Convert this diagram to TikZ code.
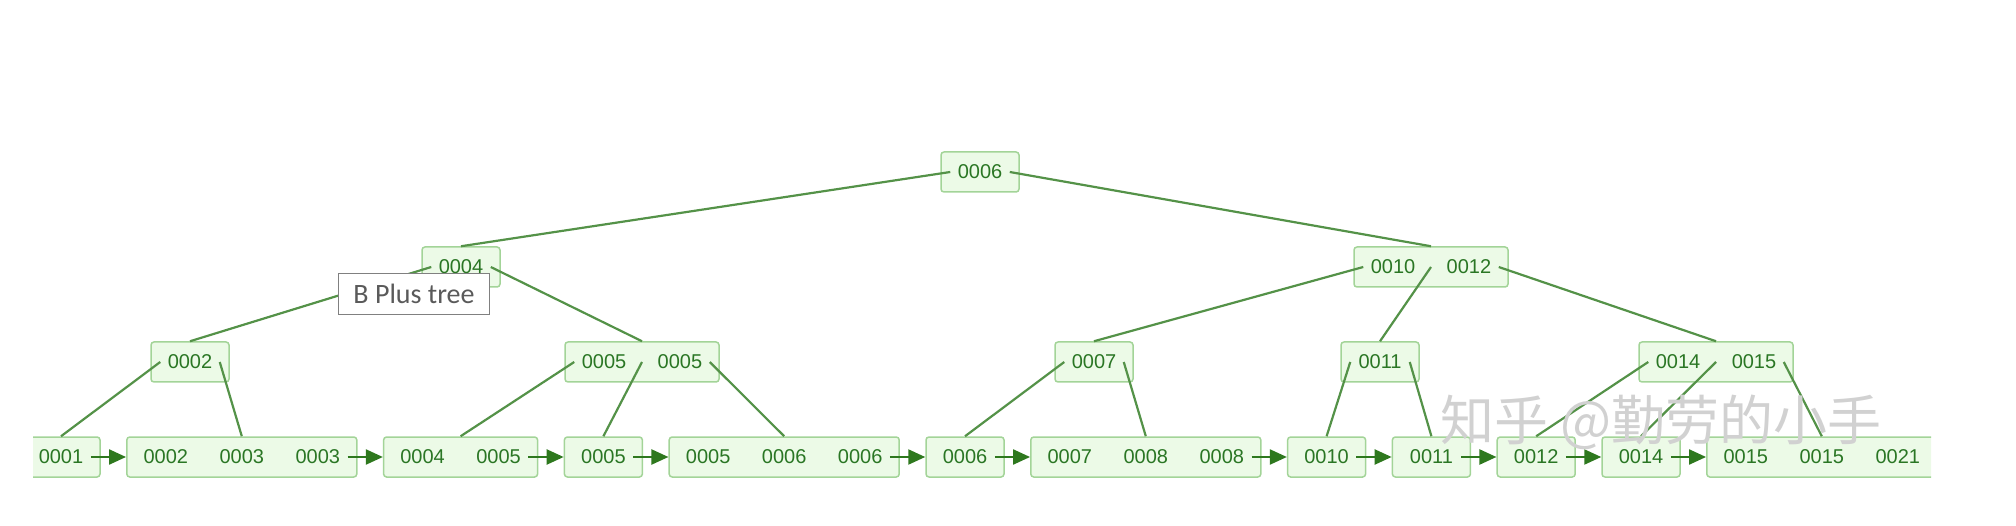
\documentclass[tikz,border=0pt]{standalone}
\usepackage{fontspec}
\setmainfont{Liberation Sans}
\newfontfamily\tipfont{Carlito}
\newfontfamily\markfont{Noto Sans CJK SC}
\usetikzlibrary{positioning}
\usetikzlibrary{arrows.meta}

\definecolor{boxfill}{RGB}{236,250,231}
\definecolor{boxline}{RGB}{163,212,152}
\definecolor{keytext}{RGB}{42,118,36}
\definecolor{edgeline}{RGB}{84,146,72}
\definecolor{arrowgreen}{RGB}{46,120,30}
\definecolor{tipgray}{RGB}{90,90,90}

\newcommand{\keycell}[1]{\makebox[76pt]{#1}}

\begin{document}
\begin{tikzpicture}[x=1pt, y=-1pt,
                keynode/.style={rectangle, draw=boxline, fill=boxfill, line width=1.5pt, rounded corners=3pt, minimum height=40pt, inner sep=0pt, text=keytext, font=\fontsize{20}{24}\selectfont},
                onekeynode/.style={keynode, minimum width=78pt},
                twokeynode/.style={keynode, minimum width=154pt},
                threekeynode/.style={keynode, minimum width=230pt},
                tipnode/.style={rectangle, draw=gray, fill=white, line width=1.2pt, minimum width=151pt, minimum height=41pt, inner sep=0pt, text=tipgray, font=\tipfont\fontsize{28}{32}\selectfont},
                treeline/.style={draw=edgeline, line width=2.2pt},
                leafarrow/.style={draw=arrowgreen, line width=2.2pt, -{Triangle[length=17pt, width=15pt]}},
                node distance=25.3pt
            ]
            \path[use as bounding box] (0,0) rectangle (2016,526);
            \clip (33,0) rectangle (1931,526);

            % Nodes
            \node[onekeynode]       (root)          at (980,172)        {0006};

            \node[onekeynode]       (key_4)         at (461,267)        {0004};
            \node[twokeynode]       (key_10_12)     at (1431,267)       {\keycell{0010}\keycell{0012}};

            \node[onekeynode]       (key_2)         at (190,362)        {0002};
            \node[twokeynode]       (key_5_5)       at (642,362)        {\keycell{0005}\keycell{0005}};
            \node[onekeynode]       (key_7)         at (1094,362)       {0007};
            \node[onekeynode]       (key_11)        at (1380,362)       {0011};
            \node[twokeynode]       (key_14_15)     at (1716,362)       {\keycell{0014}\keycell{0015}};

            \node[onekeynode]       (leaf_1)        at (61,457)         {0001};
            \node[threekeynode]     (leaf_2_3_3)    [right=of leaf_1]   {\keycell{0002}\keycell{0003}\keycell{0003}};
            \node[twokeynode]       (leaf_4_5)      [right=of leaf_2_3_3]   {\keycell{0004}\keycell{0005}};
            \node[onekeynode]       (leaf_5)        [right=of leaf_4_5]     {0005};
            \node[threekeynode]     (leaf_5_6_6)    [right=of leaf_5]       {\keycell{0005}\keycell{0006}\keycell{0006}};
            \node[onekeynode]       (leaf_6)        [right=of leaf_5_6_6]   {0006};
            \node[threekeynode]     (leaf_7_8_8)    [right=of leaf_6]       {\keycell{0007}\keycell{0008}\keycell{0008}};
            \node[onekeynode]       (leaf_10)       [right=of leaf_7_8_8]   {0010};
            \node[onekeynode]       (leaf_11)       [right=of leaf_10]      {0011};
            \node[onekeynode]       (leaf_12)       [right=of leaf_11]      {0012};
            \node[onekeynode]       (leaf_14)       [right=of leaf_12]      {0014};
            \node[threekeynode]     (leaf_15_15_21) [right=of leaf_14]      {\keycell{0015}\keycell{0015}\keycell{0021}};

            %Lines
            \draw[treeline] ([xshift=10pt]root.west) -- (key_4.north);
            \draw[treeline] ([xshift=-10pt]root.east) -- (key_10_12.north);

            \draw[treeline] ([xshift=10pt]key_4.west) -- (key_2.north);
            \draw[treeline] ([xshift=-10pt]key_4.east) -- (key_5_5.north);

            \draw[treeline] ([xshift=10pt]key_10_12.west) -- (key_7.north);
            \draw[treeline] (key_10_12.center) -- (key_11.north);
            \draw[treeline] ([xshift=-10pt]key_10_12.east) -- (key_14_15.north);

            \draw[treeline] ([xshift=10pt]key_2.west) -- (leaf_1.north);
            \draw[treeline] ([xshift=-10pt]key_2.east) -- (leaf_2_3_3.north);

            \draw[treeline] ([xshift=10pt]key_5_5.west) -- (leaf_4_5.north);
            \draw[treeline] (key_5_5.center) -- (leaf_5.north);
            \draw[treeline] ([xshift=-10pt]key_5_5.east) -- (leaf_5_6_6.north);

            \draw[treeline] ([xshift=10pt]key_7.west) -- (leaf_6.north);
            \draw[treeline] ([xshift=-10pt]key_7.east) -- (leaf_7_8_8.north);

            \draw[treeline] ([xshift=10pt]key_11.west) -- (leaf_10.north);
            \draw[treeline] ([xshift=-10pt]key_11.east) -- (leaf_11.north);

            \draw[treeline] ([xshift=10pt]key_14_15.west) -- (leaf_12.north);
            \draw[treeline] (key_14_15.center) -- (leaf_14.north);
            \draw[treeline] ([xshift=-10pt]key_14_15.east) -- (leaf_15_15_21.north);

            %Leaf links
            \draw[leafarrow] ([xshift=-10pt]leaf_1.east) -- (leaf_2_3_3.west);
            \draw[leafarrow] ([xshift=-10pt]leaf_2_3_3.east) -- (leaf_4_5.west);
            \draw[leafarrow] ([xshift=-10pt]leaf_4_5.east) -- (leaf_5.west);
            \draw[leafarrow] ([xshift=-10pt]leaf_5.east) -- (leaf_5_6_6.west);
            \draw[leafarrow] ([xshift=-10pt]leaf_5_6_6.east) -- (leaf_6.west);
            \draw[leafarrow] ([xshift=-10pt]leaf_6.east) -- (leaf_7_8_8.west);
            \draw[leafarrow] ([xshift=-10pt]leaf_7_8_8.east) -- (leaf_10.west);
            \draw[leafarrow] ([xshift=-10pt]leaf_10.east) -- (leaf_11.west);
            \draw[leafarrow] ([xshift=-10pt]leaf_11.east) -- (leaf_12.west);
            \draw[leafarrow] ([xshift=-10pt]leaf_12.east) -- (leaf_14.west);
            \draw[leafarrow] ([xshift=-10pt]leaf_14.east) -- (leaf_15_15_21.west);

            % Tooltip and watermark
            \node[tipnode]          (tooltip)       at (414,294)        {B Plus tree};
            \node[text=black!18, font=\markfont\fontsize{54}{60}\selectfont] (watermark) at (1661,422) {知乎 @勤劳的小手};
        \end{tikzpicture}
\end{document}
